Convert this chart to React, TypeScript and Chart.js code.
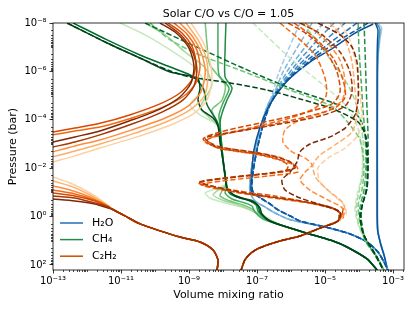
import React, { useEffect, useRef } from "react";
import { Chart, registerables } from "chart.js";

Chart.register(...registerables);

type Pt = [number, number];

const FONT = '"DejaVu Sans", "Liberation Sans", sans-serif';

const chartTitle = "Solar C/O vs C/O = 1.05";
const xAxisTitle = "Volume mixing ratio";
const yAxisTitle = "Pressure (bar)";
const xMin = 1e-13;
const xMax = 2.1e-3;
const yMin = 1e-8;
const yMax = 161;
const xTickValues = [1e-13, 1e-11, 1e-9, 1e-7, 1e-5, 1e-3];
const xTickLabels = ["10⁻¹³", "10⁻¹¹", "10⁻⁹", "10⁻⁷", "10⁻⁵", "10⁻³"];
const yTickValues = [1e-8, 1e-6, 1e-4, 1e-2, 1, 1e2];
const yTickLabels = ["10⁻⁸", "10⁻⁶", "10⁻⁴", "10⁻²", "10⁰", "10²"];
const legendLabels = ["H₂O", "CH₄", "C₂H₂"];
const legendColors = ["#2171b5", "#238b45", "#cc4c02"];

// ---------------- H2O (solar, solid) ----------------
const h2oSolidLight: Pt[] = [[3.5e-4, 1e-8], [4.6e-4, 1.6e-8], [4.2e-4, 4e-8], [3.7e-4, 2e-7], [3.5e-4, 2.3e-6], [3.5e-4, 0.206], [3.6e-4, 3.6], [4.4e-4, 13.6], [5.6e-4, 42], [7e-4, 161]];
const h2oSolidMid: Pt[] = [[3.2e-4, 1e-8], [4.1e-4, 1.8e-8], [3.8e-4, 6e-8], [3.5e-4, 1e-6], [3.45e-4, 0.206], [3.55e-4, 3.6], [4.35e-4, 13.6], [5.5e-4, 42], [6.9e-4, 161]];
const h2oSolidDark: Pt[] = [[3.0e-4, 1e-8], [3.6e-4, 1.95e-8], [3.5e-4, 5e-8], [3.4e-4, 3.4e-7], [3.4e-4, 1.02e-4], [3.4e-4, 0.206], [3.5e-4, 3.6], [4.3e-4, 13.6], [5.5e-4, 42], [6.8e-4, 161]];
const h2oSolidDiag: Pt[] = [[2.6e-4, 1.1e-8], [7.6e-5, 2.6e-8], [1.7e-5, 1.1e-7], [3.6e-6, 4.1e-7], [9.3e-7, 1.9e-6], [4.2e-7, 7.1e-6], [2.1e-7, 3.2e-5], [1.2e-7, 2.2e-4], [8.1e-8, 1.8e-3], [7.1e-8, 1.2e-2], [6.6e-8, 7.9e-2], [7.6e-8, 0.13]];

// ---------------- H2O (C/O = 1.05, dashed) ----------------
const h2oDashTop1: Pt[] = [[1.84e-6, 1e-8], [8.2e-7, 1.3e-7], [4.15e-7, 1.4e-6], [2.76e-7, 9.4e-6]];
const h2oDashTop2: Pt[] = [[4.15e-6, 1e-8], [1.5e-6, 1.08e-7], [5.8e-7, 1.06e-6], [3.2e-7, 7.8e-6]];
const h2oDashTop3: Pt[] = [[8.7e-6, 1e-8], [2.6e-6, 9.8e-8], [8.2e-7, 8.7e-7], [3.6e-7, 6.5e-6]];
const h2oDashTop4: Pt[] = [[1.84e-5, 1e-8], [4.4e-6, 8.1e-8], [1.15e-6, 7.2e-7], [4.15e-7, 5.3e-6]];
const h2oDashTop5: Pt[] = [[3.9e-5, 1e-8], [8.2e-6, 6.7e-8], [1.6e-6, 6e-7], [4.7e-7, 4.9e-6]];
const h2oDashTop6: Pt[] = [[8.7e-5, 1e-8], [1.5e-5, 6.1e-8], [2.25e-6, 4.9e-7], [5.1e-7, 4.4e-6]];
const h2oDashTop7: Pt[] = [[1.84e-4, 1e-8], [2.76e-5, 5e-8], [3.2e-6, 4.1e-7], [5.4e-7, 4e-6]];
const h2oDashMidLight: Pt[] = [[2.1e-7, 2.4e-5], [1.31e-7, 1.64e-4], [9.4e-8, 1.1e-3], [7.1e-8, 7.4e-3], [6.2e-8, 3.7e-2], [6.2e-8, 9.6e-2], [8.7e-8, 0.226], [1.72e-7, 0.4], [3.4e-7, 0.71], [8.2e-7, 1.26], [1.84e-6, 1.67]];
const h2oDashMidDark: Pt[] = [[2.4e-7, 2.4e-5], [1.5e-7, 1.64e-4], [1.07e-7, 1.1e-3], [8.2e-8, 7.4e-3], [7.1e-8, 3.7e-2], [7.6e-8, 9.6e-2], [1.4e-7, 0.187], [2.4e-7, 0.3], [4.15e-7, 0.53], [9.4e-7, 0.94], [1.84e-6, 1.52]];
const h2oDashTail: Pt[] = [[7.1e-6, 2.4], [1.72e-5, 3.25], [5.4e-5, 5.2], [1.72e-4, 11.2], [3.6e-4, 29], [5.4e-4, 75], [7.1e-4, 161]];

// ---------------- CH4 (solar, solid) ----------------
const ch4Solid1: Pt[] = [[9.4e-12, 1e-8], [5.1e-11, 3.1e-8], [2.8e-10, 1.3e-7], [1.22e-9, 5.4e-7], [2.6e-9, 2.3e-6], [1.84e-9, 9.4e-6], [1.07e-9, 2.4e-5], [2.1e-9, 6.3e-5], [5.8e-9, 1.36e-4], [8.2e-9, 2.6e-4], [9.4e-9, 1.77e-3], [1.07e-8, 1.19e-2], [1.22e-8, 4.5e-2], [4.7e-9, 8e-2], [3e-9, 0.106], [4.1e-9, 0.17], [1.15e-8, 0.274], [4.4e-8, 0.44], [1.4e-7, 0.86], [3.4e-7, 1.67], [5.8e-7, 2.4]];
const ch4Solid2: Pt[] = [[5.1e-11, 1e-8], [2e-10, 3.1e-8], [7.6e-10, 1.58e-7], [3e-9, 7.2e-7], [4.7e-9, 3.6e-6], [3e-9, 1.26e-5], [2.1e-9, 3.25e-5], [4.1e-9, 8.4e-5], [7.6e-9, 2e-4], [8.7e-9, 1.1e-3], [1.07e-8, 1.19e-2], [1.22e-8, 4.9e-2], [6.7e-9, 8.7e-2], [5.1e-9, 0.128], [9.4e-9, 0.206], [2.8e-8, 0.33], [6.2e-8, 0.53], [1.72e-7, 1.14], [5.8e-7, 2.4]];
const ch4Solid3: Pt[] = [[3e-9, 1e-8], [3.4e-9, 8.1e-8], [4.1e-9, 5.4e-7], [1.15e-8, 3.6e-6], [9.4e-9, 1.52e-5], [4.7e-9, 3.9e-5], [7.1e-9, 1.36e-4], [8.7e-9, 6.8e-4], [1.07e-8, 1.19e-2], [1.22e-8, 5.4e-2], [9.4e-9, 8.7e-2], [8.2e-9, 0.141], [1.6e-8, 0.226], [3.9e-8, 0.33], [7.1e-8, 0.485], [1.4e-7, 1.04], [5.8e-7, 2.4]];
const ch4Solid4: Pt[] = [[7.1e-9, 1e-8], [7.1e-9, 1.3e-7], [7.6e-9, 1.4e-6], [1.5e-8, 4.9e-6], [1e-8, 2e-5], [7.6e-9, 6.3e-5], [8.2e-9, 1.64e-4], [9.4e-9, 1.77e-3], [1.15e-8, 1.91e-2], [1.31e-8, 6e-2], [1.15e-8, 0.106], [1.84e-8, 0.187], [4.4e-8, 0.274], [7.1e-8, 0.365], [8.7e-8, 0.65], [1.5e-7, 1.26], [5.8e-7, 2.4]];
const ch4Solid5: Pt[] = [[1.22e-8, 1e-8], [1.15e-8, 1.3e-7], [1.15e-8, 1.7e-6], [1.84e-8, 4.9e-6], [1.31e-8, 1.52e-5], [9.4e-9, 5.2e-5], [8.2e-9, 1.36e-4], [9.4e-9, 1.77e-3], [1.15e-8, 1.91e-2], [1.31e-8, 6.6e-2], [1.6e-8, 0.116], [3.2e-8, 0.17], [6.2e-8, 0.226], [9.4e-8, 0.33], [1.07e-7, 0.59], [1.84e-7, 1.26], [5.8e-7, 2.4]];
const ch4Solid6: Pt[] = [[3.9e-13, 1e-8], [3.9e-12, 5e-8], [3.6e-11, 2.1e-7], [2.8e-10, 6.6e-7], [1.22e-9, 1.55e-6], [2.6e-9, 4.9e-6], [3.4e-9, 2.4e-5], [6.7e-9, 1.23e-4], [8.2e-9, 4.2e-4], [9.4e-9, 2.85e-3], [1.15e-8, 1.91e-2], [1.31e-8, 6.6e-2], [2.1e-8, 0.128], [4.7e-8, 0.187], [7.6e-8, 0.226], [1.07e-7, 0.365], [1.22e-7, 0.65], [2.1e-7, 1.38], [5.8e-7, 2.4]];
const ch4Solid7: Pt[] = [[2.6e-13, 1e-8], [3.9e-12, 6.7e-8], [3.6e-11, 2.8e-7], [2.8e-10, 1.06e-6], [1.72e-9, 1.87e-6], [2.1e-9, 4.9e-6], [1.84e-9, 1.52e-5], [2.4e-9, 3.9e-5], [5.1e-9, 8.4e-5], [7.1e-9, 1.8e-4], [8.2e-9, 9.1e-4], [1e-8, 4.6e-3], [1.15e-8, 1.91e-2], [1.31e-8, 6.6e-2], [2.25e-8, 0.141], [5.4e-8, 0.206], [8.7e-8, 0.274], [1.22e-7, 0.44], [1.4e-7, 0.78], [2.4e-7, 1.52], [5.8e-7, 2.4]];
const ch4SolidTail: Pt[] = [[4.4e-6, 5.8], [1.72e-5, 10.2], [4.4e-5, 18], [1.72e-4, 56], [3.4e-4, 161]];

// ---------------- CH4 (C/O = 1.05, dashed) ----------------
const ch4Dash1: Pt[] = [[7.6e-8, 1e-8], [9.4e-7, 2.8e-7], [8.7e-6, 3.6e-6], [3.9e-5, 2.4e-5], [8.7e-5, 1.64e-4], [1.22e-4, 1.77e-3], [1.22e-4, 1.91e-2], [8.7e-5, 0.128], [7.6e-5, 0.53], [9.4e-5, 2.2], [1.6e-4, 11.2], [3.4e-4, 51], [5.1e-4, 161]];
const ch4Dash2: Pt[] = [[2.25e-6, 1e-8], [1.15e-5, 2.1e-7], [4.7e-5, 3.6e-6], [9.4e-5, 3.9e-5], [1.31e-4, 6.8e-4], [1.31e-4, 1.19e-2], [1e-4, 9.6e-2], [8.2e-5, 0.44], [1e-4, 2.2], [1.72e-4, 12.3], [3.6e-4, 51], [5.4e-4, 161]];
const ch4Dash3: Pt[] = [[7.1e-11, 1e-8], [2.8e-10, 5e-8], [2.1e-9, 2.1e-7], [4.4e-8, 1.06e-6], [9.4e-7, 5.9e-6], [1.72e-5, 3e-5], [5.4e-5, 1.64e-4], [1.07e-4, 6.8e-4], [1.4e-4, 7.4e-3], [1.22e-4, 8e-2], [9.4e-5, 0.33], [1.07e-4, 1.67], [1.72e-4, 11.2], [3.6e-4, 56], [5.4e-4, 161]];
const ch4Dash4: Pt[] = [[9.4e-5, 1e-8], [1e-4, 1.3e-7], [1.15e-4, 2.3e-6], [1.31e-4, 3.9e-5], [1.5e-4, 4.2e-4], [1.6e-4, 7.4e-3], [1.4e-4, 8e-2], [1.07e-4, 0.4], [1.07e-4, 1.38], [1.5e-4, 9.3], [3.4e-4, 51], [5.4e-4, 161]];
const ch4Dash5: Pt[] = [[1.4e-4, 1e-8], [1.5e-4, 1.3e-7], [1.6e-4, 2.3e-6], [1.72e-4, 3.9e-5], [1.84e-4, 4.2e-4], [1.84e-4, 7.4e-3], [1.6e-4, 8e-2], [1.22e-4, 0.4], [1.15e-4, 1.38], [1.5e-4, 7.7], [3.4e-4, 51], [5.4e-4, 161]];
const ch4Dash6: Pt[] = [[5.1e-11, 1e-8], [1.4e-10, 1.95e-8], [2.6e-9, 1.3e-7], [5.1e-8, 8.7e-7], [9.4e-7, 4.9e-6], [1.72e-5, 2e-5], [7.6e-5, 5.2e-5], [1.31e-4, 1.64e-4], [1.6e-4, 6.8e-4], [1.72e-4, 7.4e-3], [1.72e-4, 6.6e-2], [1.22e-4, 0.365], [1.15e-4, 1.14], [1.4e-4, 5.8], [3.2e-4, 47], [5.1e-4, 161]];
const ch4Dash7: Pt[] = [[2.6e-13, 1e-8], [3.9e-12, 6.7e-8], [3.6e-11, 2.8e-7], [2.8e-10, 9.6e-7], [1.07e-9, 1.7e-6], [1.6e-8, 3e-6], [1.97e-7, 5.9e-6], [1.84e-6, 1.38e-5], [1.72e-5, 3.6e-5], [9.4e-5, 1.23e-4], [1.6e-4, 5.1e-4], [1.84e-4, 7.4e-3], [1.72e-4, 6.6e-2], [1.22e-4, 0.365], [1.07e-4, 0.86], [1.31e-4, 4.8], [3.4e-4, 47], [5.1e-4, 161]];

// ---------------- C2H2 (solar, solid) upper branch ----------------
const c2h2Upper1: Pt[] = [[1.15e-9, 1e-8], [2.6e-9, 6.1e-8], [4.1e-9, 3.7e-7], [4.7e-9, 2.3e-6], [3.4e-9, 1.5e-5], [1.3e-9, 5.8e-5], [2.4e-10, 1.8e-4], [2.4e-11, 5.6e-4], [2.4e-12, 1.46e-3], [4.4e-13, 3.1e-3], [1e-13, 5.5e-3]];
const c2h2Upper2: Pt[] = [[8.2e-10, 1e-8], [1.84e-9, 5e-8], [3.2e-9, 2.8e-7], [3.6e-9, 1.7e-6], [2.8e-9, 1.04e-5], [1.07e-9, 3.9e-5], [2.1e-10, 1.23e-4], [2.1e-11, 3.9e-4], [2.4e-12, 1e-3], [4.4e-13, 1.95e-3], [1e-13, 3.4e-3]];
const c2h2Upper3: Pt[] = [[5.4e-10, 1e-8], [1.3e-9, 3.8e-8], [2.4e-9, 2.1e-7], [3e-9, 1.16e-6], [2.25e-9, 7.1e-6], [9.4e-10, 2.7e-5], [2e-10, 8.4e-5], [2.1e-11, 2.6e-4], [2.4e-12, 6.8e-4], [4.4e-13, 1.2e-3], [1e-13, 2.1e-3]];
const c2h2Upper4: Pt[] = [[3.6e-10, 1e-8], [8.7e-10, 2.85e-8], [1.7e-9, 1.3e-7], [2.1e-9, 6.6e-7], [1.6e-9, 3e-6], [7.1e-10, 1.04e-5], [1.7e-10, 3e-5], [2.1e-11, 8.4e-5], [2.4e-12, 2e-4], [4.4e-13, 2.9e-4], [1e-13, 4.2e-4]];
const c2h2Upper5: Pt[] = [[2.4e-10, 1e-8], [6.2e-10, 2.6e-8], [1.3e-9, 1.1e-7], [1.6e-9, 5.4e-7], [1.2e-9, 2.3e-6], [5.4e-10, 7.8e-6], [1.4e-10, 2.2e-5], [1.8e-11, 6.3e-5], [2.4e-12, 1.4e-4], [4.4e-13, 2.2e-4], [1e-13, 3.2e-4]];
const c2h2Upper6: Pt[] = [[2e-10, 1e-8], [5.4e-10, 2.85e-8], [1.2e-9, 1.3e-7], [1.7e-9, 7.2e-7], [1.4e-9, 4e-6], [6.7e-10, 1.5e-5], [1.6e-10, 4.8e-5], [2.1e-11, 1.5e-4], [2.4e-12, 4.2e-4], [4.4e-13, 8.3e-4], [1e-13, 1.33e-3]];
const c2h2Upper7: Pt[] = [[1.4e-10, 1e-8], [4.2e-10, 2.6e-8], [1e-9, 1.1e-7], [1.4e-9, 6e-7], [1.15e-9, 3e-6], [5.4e-10, 1.14e-5], [1.4e-10, 3.6e-5], [1.8e-11, 1.1e-4], [2.4e-12, 2.9e-4], [4.4e-13, 5.1e-4], [1e-13, 8.3e-4]];

// ---------------- C2H2 (solar, solid) lower branch ----------------
const c2h2Lower1: Pt[] = [[1e-13, 2.3e-2], [3.2e-13, 4.1e-2], [1.22e-12, 0.106], [3.4e-12, 0.274], [5.4e-12, 0.485]];
const c2h2Lower2: Pt[] = [[1e-13, 3.4e-2], [3.2e-13, 5.4e-2], [1.22e-12, 0.128], [3.4e-12, 0.3], [5.4e-12, 0.485]];
const c2h2Lower3: Pt[] = [[1e-13, 5.4e-2], [3.2e-13, 8e-2], [1.22e-12, 0.155], [3.4e-12, 0.33], [5.4e-12, 0.485]];
const c2h2Lower4: Pt[] = [[1e-13, 8e-2], [4.4e-13, 0.116], [1.7e-12, 0.206], [4.2e-12, 0.365], [5.4e-12, 0.485]];
const c2h2Lower5: Pt[] = [[1e-13, 0.106], [4.4e-13, 0.141], [1.7e-12, 0.226], [4.2e-12, 0.4], [5.4e-12, 0.485]];
const c2h2Lower6: Pt[] = [[1e-13, 0.141], [4.4e-13, 0.17], [1.7e-12, 0.274], [4.2e-12, 0.4], [5.4e-12, 0.485]];
const c2h2Lower7: Pt[] = [[1e-13, 0.187], [4.4e-13, 0.226], [1.7e-12, 0.3], [4.2e-12, 0.44], [5.4e-12, 0.485]];
const c2h2LowerTail: Pt[] = [[1.31e-11, 0.94], [3.6e-11, 2.0], [1.4e-10, 3.9], [5.4e-10, 7.0], [2.1e-9, 11.2], [5.1e-9, 24], [7.1e-9, 62], [6.7e-9, 161]];
const c2h2Deep: Pt[] = [[3.4e-5, 0.44], [3.2e-5, 0.78]];

// ---------------- C2H2 (C/O = 1.05, dashed) ----------------
const c2h2Dash1: Pt[] = [[2.76e-5, 1e-8], [5.4e-5, 5e-8], [8.2e-5, 5.4e-7], [1.07e-4, 9.4e-6], [1.22e-4, 1.02e-4], [9.4e-5, 4.2e-4], [3.9e-5, 1.46e-3], [1.22e-5, 3.8e-3], [6.2e-6, 9.8e-3], [7.1e-6, 3.7e-2], [1.72e-5, 0.128], [3.6e-5, 0.33], [4.15e-5, 0.78]];
const c2h2Dash2: Pt[] = [[1.4e-5, 1e-8], [3.9e-5, 5e-8], [6.2e-5, 4.1e-7], [7.6e-5, 5.9e-6], [8.7e-5, 6.3e-5], [6.2e-5, 3.2e-4], [1.97e-5, 1.1e-3], [7.1e-6, 2.85e-3], [4.4e-6, 7.4e-3], [5.4e-6, 2.5e-2], [1.4e-5, 9.6e-2], [3.2e-5, 0.25], [3.9e-5, 0.65]];
const c2h2Dash3: Pt[] = [[2.6e-6, 1e-8], [1e-5, 5e-8], [2.76e-5, 3.4e-7], [3.9e-5, 2.7e-6], [3.2e-5, 1.52e-5], [1e-5, 4.8e-5], [1.84e-6, 1.02e-4], [6.7e-7, 2.6e-4], [5.8e-7, 8.3e-4], [1.07e-6, 2.1e-3], [2.6e-6, 3.8e-3], [4.15e-6, 7.4e-3], [2.6e-6, 1.44e-2], [1.84e-6, 3.1e-2], [3.6e-6, 8e-2], [1.22e-5, 0.206], [3.2e-5, 0.44], [3.4e-5, 1.14]];
const c2h2Dash4: Pt[] = [[4.7e-7, 1e-8], [1.6e-6, 4.2e-8], [5.1e-6, 2.1e-7], [1e-5, 1.87e-6], [1.07e-5, 1.04e-5], [5.1e-6, 3.25e-5], [9.4e-7, 8.4e-5], [6.2e-8, 2.2e-4], [5.8e-9, 4.7e-4], [3e-9, 8.3e-4], [9.4e-9, 1.6e-3], [8.7e-8, 2.6e-3], [4.7e-7, 4.6e-3], [1.4e-6, 8.1e-3], [1.6e-6, 1.44e-2], [2.1e-7, 2.1e-2], [1.6e-8, 3.1e-2], [2.25e-9, 4.9e-2], [3.2e-8, 0.106], [4.7e-7, 0.187], [5.1e-6, 0.3], [2.1e-5, 0.53], [2.96e-5, 0.86]];
const c2h2Dash5: Pt[] = [[1.22e-6, 1e-8], [5.1e-6, 4.2e-8], [1.72e-5, 2.8e-7], [3.4e-5, 2.3e-6], [3.9e-5, 1.14e-5], [1.97e-5, 3.25e-5], [2.6e-6, 7.7e-5], [1.72e-7, 1.8e-4], [1.15e-8, 3.9e-4], [3.4e-9, 6.8e-4], [8.2e-9, 1.33e-3], [7.1e-8, 2.1e-3], [4.15e-7, 3.4e-3], [1.15e-6, 6.7e-3], [1.07e-6, 1.19e-2], [1.4e-7, 1.74e-2], [1.15e-8, 2.5e-2], [2.1e-9, 4.1e-2], [2.8e-8, 8.7e-2], [3.4e-7, 0.141], [3.6e-6, 0.274], [1.84e-5, 0.485], [2.96e-5, 0.78]];
const c2h2Dash6: Pt[] = [[8.2e-7, 1e-8], [3.2e-6, 3.1e-8], [1.07e-5, 1.58e-7], [2.25e-5, 1.06e-6], [2.76e-5, 7.1e-6], [1.6e-5, 2.2e-5], [1.84e-6, 5.8e-5], [1.22e-7, 1.36e-4], [8.2e-9, 3.2e-4], [2.6e-9, 6.2e-4], [7.1e-9, 1.46e-3], [6.2e-8, 2.35e-3], [3.4e-7, 3.8e-3], [8.2e-7, 7.4e-3], [6.7e-7, 1.31e-2], [8.7e-8, 1.91e-2], [8.2e-9, 2.8e-2], [1.84e-9, 4.1e-2], [2.25e-8, 9.6e-2], [2.4e-7, 0.155], [2.6e-6, 0.25], [1.4e-5, 0.4], [2.76e-5, 0.71]];
const c2h2Dash7: Pt[] = [[1.84e-6, 1e-8], [8.2e-6, 3.1e-8], [2.76e-5, 1.58e-7], [5.4e-5, 1.06e-6], [6.2e-5, 7.1e-6], [3.9e-5, 2.7e-5], [7.1e-6, 7e-5], [4.7e-7, 1.5e-4], [3.2e-8, 2.9e-4], [3e-9, 5.6e-4], [5.8e-9, 1.2e-3], [4.4e-8, 1.95e-3], [2.76e-7, 3.1e-3], [9.4e-7, 5.5e-3], [1.31e-6, 9.8e-3], [2.4e-7, 1.58e-2], [2.25e-8, 2.3e-2], [2.1e-9, 3.7e-2], [1.6e-8, 8e-2], [1.72e-7, 0.141], [1.84e-6, 0.226], [1e-5, 0.365], [2.4e-5, 0.59]];
const c2h2Dash8: Pt[] = [[6.2e-6, 1e-8], [2.76e-5, 3.1e-8], [6.2e-5, 9.8e-8], [8.7e-5, 4.1e-7], [9.4e-5, 2.3e-6], [9.4e-5, 1.52e-5], [7.6e-5, 6.3e-5], [3.9e-5, 2.2e-4], [1.4e-5, 5.1e-4], [3.6e-6, 1e-3], [1.84e-6, 2.1e-3], [1.5e-6, 5.5e-3], [9.4e-7, 1.44e-2], [5.4e-7, 3.1e-2], [6.7e-7, 8e-2], [1.84e-6, 0.17], [1e-5, 0.365], [2.76e-5, 0.65]];
const c2h2DashTail: Pt[] = [[2.4e-5, 1.52], [7.1e-6, 3.0], [1.84e-6, 6.3], [4.7e-7, 10.2], [1.97e-7, 15], [1e-7, 22], [6.2e-8, 35], [4.4e-8, 62], [3.4e-8, 161]];

const blues = ["#a6cbe6", "#85b8dd", "#6baed6", "#4a98cb", "#3182bd", "#1f6db0", "#0d559f"];
const greens = ["#c7e9c0", "#a1d99b", "#74c476", "#41ab5d", "#238b45", "#006d2c", "#00441b"];
const oranges = ["#fdd0a2", "#fdae6b", "#fd8d3c", "#f16913", "#d94801", "#a63603", "#7f2704"];
const orangesDashed = ["#fdd0a2", "#fdae6b", "#fd8d3c", "#f16913", "#e6550d", "#d94801", "#a63603", "#7f2704"];

function line(pts: Pt[], color: string, dashed: boolean) {
  return {
    data: pts.map(([x, y]) => ({ x, y })),
    borderColor: color,
    backgroundColor: color,
    borderWidth: 1.5,
    borderDash: dashed ? [5.5, 2.4] : [],
    pointRadius: 0,
    pointHoverRadius: 0,
    showLine: true,
    fill: false,
    tension: 0.25,
    borderCapStyle: "butt",
    borderJoinStyle: "round",
  };
}

function buildDatasets() {
  const list: any[] = [];
  // H2O
  list.push(line(h2oSolidLight, "#9ecae1", false));
  list.push(line(h2oSolidMid, "#4292c6", false));
  list.push(line(h2oSolidDark, "#08519c", false));
  const tops = [h2oDashTop1, h2oDashTop2, h2oDashTop3, h2oDashTop4, h2oDashTop5, h2oDashTop6, h2oDashTop7];
  tops.forEach((t, i) => {
    const mid = i < 3 ? h2oDashMidLight : h2oDashMidDark;
    list.push(line([...t, ...mid, ...h2oDashTail], blues[i], true));
  });
  list.push(line(h2oSolidDiag, "#08519c", false));
  // CH4 solid
  [ch4Solid1, ch4Solid2, ch4Solid3, ch4Solid4, ch4Solid5, ch4Solid6, ch4Solid7].forEach((s, i) => {
    list.push(line([...s, ...ch4SolidTail], greens[i], false));
  });
  // CH4 dashed
  [ch4Dash1, ch4Dash2, ch4Dash3, ch4Dash4, ch4Dash5, ch4Dash6, ch4Dash7].forEach((s, i) => {
    list.push(line(s, greens[i], true));
  });
  // C2H2 solid upper
  [c2h2Upper1, c2h2Upper2, c2h2Upper3, c2h2Upper4, c2h2Upper5, c2h2Upper6, c2h2Upper7].forEach((s, i) => {
    list.push(line(s, oranges[i], false));
  });
  // C2H2 solid lower
  const lowers = [c2h2Lower1, c2h2Lower2, c2h2Lower3, c2h2Lower4, c2h2Lower5, c2h2Lower7, c2h2Lower6];
  const lowerColors = [oranges[0], oranges[1], oranges[2], oranges[3], oranges[4], oranges[6], oranges[5]];
  lowers.forEach((s, i) => {
    list.push(line([...s, ...c2h2LowerTail], lowerColors[i], false));
  });
  list.push(line([...c2h2Deep, ...c2h2DashTail], "#c04a0c", false));
  // C2H2 dashed
  [c2h2Dash1, c2h2Dash2, c2h2Dash3, c2h2Dash4, c2h2Dash5, c2h2Dash6, c2h2Dash7, c2h2Dash8].forEach((s, i) => {
    list.push(line([...s, ...c2h2DashTail], orangesDashed[i], true));
  });
  // Chart.js draws index 0 last (on top): reverse so later entries are on top
  return list.reverse();
}

function isMajor(v: number, majors: number[]) {
  return majors.some((m) => Math.abs(Math.log10(v) - Math.log10(m)) < 1e-6);
}

const decoPlugin = {
  id: "deco",
  afterDraw(chart: any) {
    const { ctx, chartArea: a, scales } = chart;
    const xs = scales.x;
    const ys = scales.y;
    ctx.save();
    ctx.setLineDash([]);
    ctx.strokeStyle = "#000";
    ctx.lineWidth = 0.7;
    ctx.beginPath();
    for (let e = -13; e <= -3; e++) {
      for (let k = 1; k <= 9; k++) {
        const v = k * Math.pow(10, e);
        if (v < xMin || v > xMax || isMajor(v, xTickValues)) continue;
        const px = Math.round(xs.getPixelForValue(v)) + 0.5;
        ctx.moveTo(px, a.bottom);
        ctx.lineTo(px, a.bottom + 2);
      }
    }
    for (let e = -8; e <= 2; e++) {
      for (let k = 1; k <= 9; k++) {
        const v = k * Math.pow(10, e);
        if (v < yMin || v > yMax || isMajor(v, yTickValues)) continue;
        const py = Math.round(ys.getPixelForValue(v)) + 0.5;
        ctx.moveTo(a.left, py);
        ctx.lineTo(a.left - 2, py);
      }
    }
    ctx.stroke();
    ctx.lineWidth = 0.8;
    ctx.strokeRect(a.left, a.top, a.right - a.left, a.bottom - a.top);

    // legend
    const lx = a.left + 7;
    const ly = a.bottom - 47;
    legendLabels.forEach((lab, i) => {
      const y = ly + i * 16.6;
      ctx.strokeStyle = legendColors[i];
      ctx.lineWidth = 1.5;
      ctx.beginPath();
      ctx.moveTo(lx, y);
      ctx.lineTo(lx + 23, y);
      ctx.stroke();
      ctx.fillStyle = "#000";
      ctx.font = `11px ${FONT}`;
      ctx.textBaseline = "middle";
      ctx.textAlign = "left";
      ctx.fillText(lab, lx + 32, y);
    });
    ctx.restore();
  },
};

export default function App() {
  const ref = useRef<HTMLCanvasElement>(null);
  useEffect(() => {
    const canvas = ref.current;
    if (!canvas) return;
    const chart = new Chart(canvas, {
      type: "scatter",
      data: { datasets: buildDatasets() },
      options: {
        responsive: false,
        animation: false,
        devicePixelRatio: 1,
        events: [],
        layout: { padding: { top: 0, right: 11, left: 0, bottom: 0 } },
        plugins: {
          legend: { display: false },
          tooltip: { enabled: false },
          title: {
            display: true,
            text: chartTitle,
            fullSize: false,
            color: "#000",
            font: { family: FONT, size: 11, weight: "normal" },
            padding: { top: 7.5, bottom: 2.3 },
          },
        },
        scales: {
          x: {
            type: "logarithmic",
            position: "bottom",
            min: xMin,
            max: xMax,
            afterBuildTicks: (s: any) => {
              s.ticks = xTickValues.map((v) => ({ value: v }));
            },
            afterFit: (s: any) => {
              s.height = 41;
            },
            ticks: {
              autoSkip: false,
              maxRotation: 0,
              color: "#000",
              padding: 2,
              font: { family: FONT, size: 10 },
              callback: (_v: any, i: number) => xTickLabels[i],
            },
            grid: { display: true, drawOnChartArea: false, drawTicks: true, tickLength: 3.5, color: "#000", lineWidth: 0.8 },
            border: { display: false },
            title: { display: true, text: xAxisTitle, color: "#000", font: { family: FONT, size: 11 }, padding: { top: 0, bottom: 9 } },
          },
          y: {
            type: "logarithmic",
            position: "left",
            reverse: true,
            min: yMin,
            max: yMax,
            afterBuildTicks: (s: any) => {
              s.ticks = yTickValues.map((v) => ({ value: v }));
            },
            afterFit: (s: any) => {
              s.width = 53;
            },
            ticks: {
              autoSkip: false,
              color: "#000",
              padding: 3,
              font: { family: FONT, size: 10 },
              callback: (_v: any, i: number) => yTickLabels[i],
            },
            grid: { display: true, drawOnChartArea: false, drawTicks: true, tickLength: 3.5, color: "#000", lineWidth: 0.8 },
            border: { display: false },
            title: { display: true, text: yAxisTitle, color: "#000", font: { family: FONT, size: 11 }, padding: { top: 7, bottom: 0 } },
          },
        },
      } as any,
      plugins: [decoPlugin],
    });
    return () => chart.destroy();
  }, []);
  return (
    <div style={{ position: "absolute", left: 0, top: 0, width: 415, height: 311, background: "#fff" }}>
      <canvas ref={ref} width={415} height={311} style={{ display: "block", width: 415, height: 311 }} />
    </div>
  );
}
